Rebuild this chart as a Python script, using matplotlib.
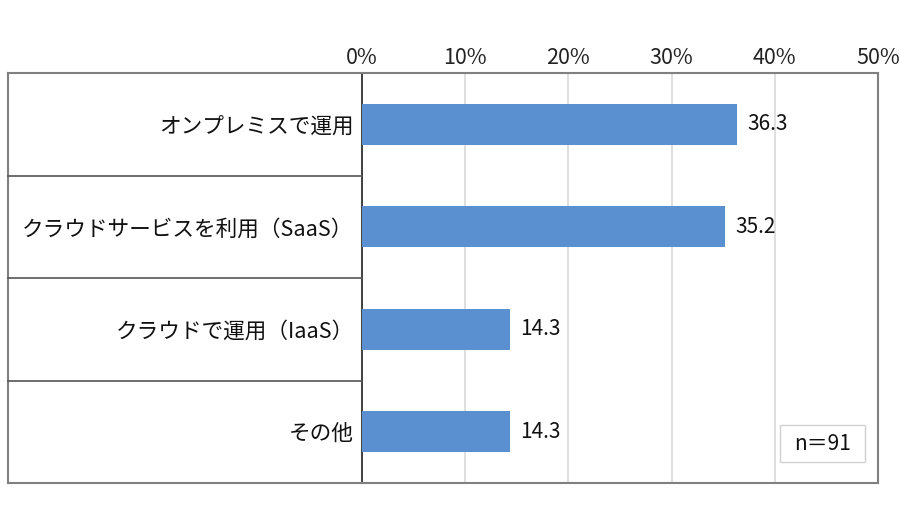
import matplotlib.pyplot as plt
from matplotlib.lines import Line2D
from matplotlib.patches import Rectangle

plt.rcParams['font.family'] = ['Noto Sans CJK JP', 'DejaVu Sans']

# data
categories = ['オンプレミスで運用', 'クラウドサービスを利用（SaaS）', 'クラウドで運用（IaaS）', 'その他']
values = [36.3, 35.2, 14.3, 14.3]
xticks = [0, 10, 20, 30, 40, 50]
xtick_labels = ['0%', '10%', '20%', '30%', '40%', '50%']
n_note = 'n＝91'

W, H = 900, 515
fig = plt.figure(figsize=(W / 100, H / 100), dpi=100)

# plot area in pixel coords
px0, px1, py0, py1 = 362, 878, 73, 483
ax = fig.add_axes([px0 / W, 1 - py1 / H, (px1 - px0) / W, (py1 - py0) / H])

pos = list(range(len(categories)))
ax.barh(pos, values, height=0.4, color='#5a8fd0', zorder=3)
ax.set_ylim(len(categories) - 0.5, -0.5)
ax.set_xlim(0, 50)

for y, v in zip(pos, values):
    ax.text(v + 1.0, y, f'{v:.1f}', va='center', ha='left', fontsize=15, color='#111111')

ax.set_xticks(xticks)
ax.set_xticklabels(xtick_labels, fontsize=15.5, color='#222222')
ax.xaxis.tick_top()
ax.tick_params(axis='x', length=0, pad=3)
ax.set_yticks(pos)
ax.set_yticklabels(categories, fontsize=15.6, color='#111111')
ax.tick_params(axis='y', length=0, pad=6)
ax.grid(axis='x', color='#d9d9d9', linewidth=1.2, zorder=0)

for s in ['top', 'right', 'bottom']:
    ax.spines[s].set_color('#808080')
    ax.spines[s].set_linewidth(1.5)
ax.spines['left'].set_color('#333333')
ax.spines['left'].set_linewidth(1.3)

# left label panel frame and separators (figure coords)
def fx(x):
    return x / W

def fy(y):
    return 1 - y / H

lx = 8
frame_kw = dict(color='#808080', linewidth=1.5, transform=fig.transFigure)
fig.add_artist(Line2D([fx(lx), fx(px0)], [fy(py0), fy(py0)], **frame_kw))
fig.add_artist(Line2D([fx(lx), fx(px0)], [fy(py1), fy(py1)], **frame_kw))
fig.add_artist(Line2D([fx(lx), fx(lx)], [fy(py0), fy(py1)], **frame_kw))
step = (py1 - py0) / len(categories)
for i in range(1, len(categories)):
    yy = py0 + i * step
    fig.add_artist(Line2D([fx(lx), fx(px0)], [fy(yy), fy(yy)], color='#555555',
                          linewidth=1.2, transform=fig.transFigure))

# sample size note box
ax.add_patch(Rectangle((0.810, 0.051), 0.165, 0.090, transform=ax.transAxes,
                       facecolor='white', edgecolor='#d0d0d0', linewidth=1, zorder=4))
ax.text(0.893, 0.096, n_note, transform=ax.transAxes, ha='center', va='center',
        fontsize=15, color='#111111', zorder=5)

fig.savefig('out.png', dpi=100)
